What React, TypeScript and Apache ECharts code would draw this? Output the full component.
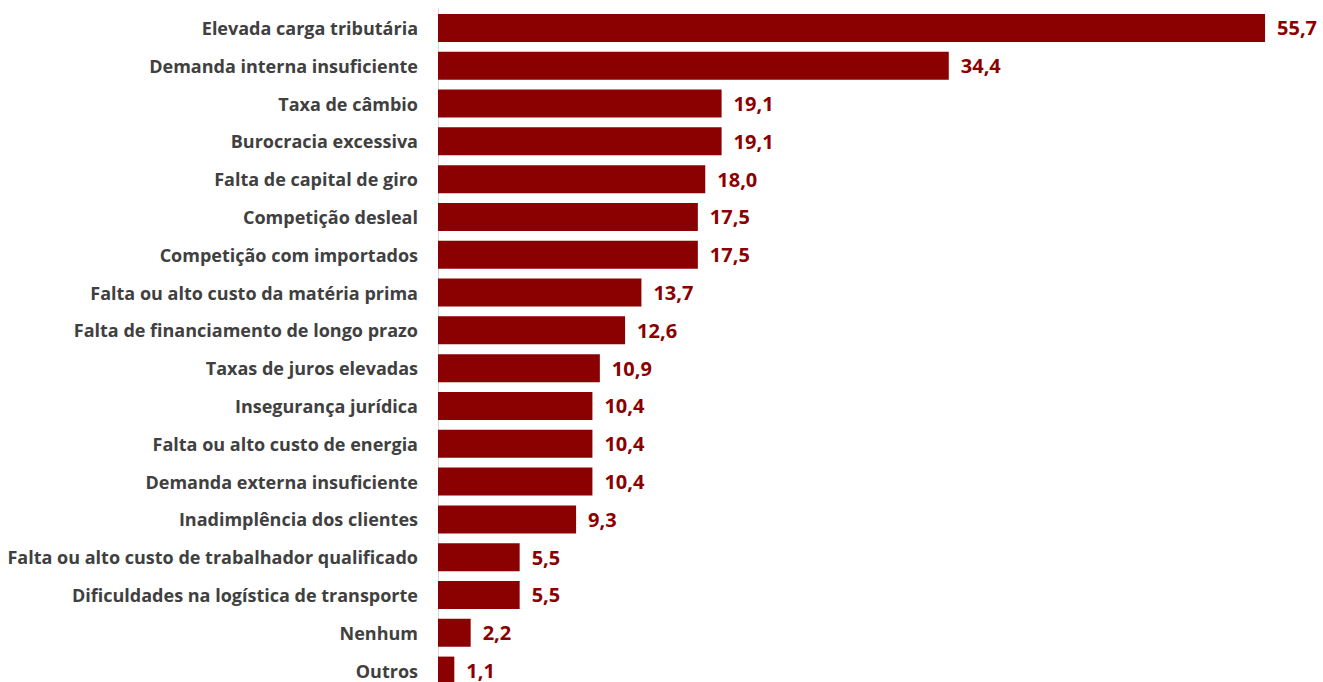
import React, { useEffect, useRef } from "react";
import * as echarts from "echarts";

const categories = [
  "Elevada carga tributária",
  "Demanda interna insuficiente",
  "Taxa de câmbio",
  "Burocracia excessiva",
  "Falta de capital de giro",
  "Competição desleal",
  "Competição com importados",
  "Falta ou alto custo da matéria prima",
  "Falta de financiamento de longo prazo",
  "Taxas de juros elevadas",
  "Insegurança jurídica",
  "Falta ou alto custo de energia",
  "Demanda externa insuficiente",
  "Inadimplência dos clientes",
  "Falta ou alto custo de trabalhador qualificado",
  "Dificuldades na logística de transporte",
  "Nenhum",
  "Outros",
];

const values = [55.7, 34.4, 19.1, 19.1, 18.0, 17.5, 17.5, 13.7, 12.6, 10.9, 10.4, 10.4, 10.4, 9.3, 5.5, 5.5, 2.2, 1.1];

const FONT = "'Open Sans', Lato, sans-serif";

export default function App() {
  const ref = useRef<HTMLDivElement>(null);
  useEffect(() => {
    if (!ref.current) return;
    const chart = echarts.init(ref.current, null, { renderer: "svg" });
    chart.setOption({
      animation: false,
      backgroundColor: "#ffffff",
      grid: { left: 438, top: 9, height: 680.5, width: 831.5 },
      xAxis: {
        type: "value",
        min: 0,
        max: 56,
        show: false,
        splitLine: { show: false },
      },
      yAxis: {
        type: "category",
        inverse: true,
        data: categories,
        axisLine: { show: true, lineStyle: { color: "#d9d9d9", width: 1 } },
        axisTick: { show: false },
        axisLabel: {
          margin: 20,
          color: "#404040",
          fontFamily: FONT,
          fontWeight: "bold",
          fontSize: 18,
        },
      },
      series: [
        {
          type: "bar",
          data: values,
          barWidth: 28,
          itemStyle: { color: "#8b0000" },
          label: {
            show: true,
            position: "right",
            distance: 12,
            color: "#8b0000",
            fontFamily: FONT,
            fontWeight: "bold",
            fontSize: 20,
            formatter: (p: any) => p.value.toFixed(1).replace(".", ","),
          },
        },
      ],
    });
    return () => chart.dispose();
  }, []);
  return (
    <div
      style={{
        position: "fixed",
        left: 0,
        top: 0,
        width: 1323,
        height: 682,
        overflow: "hidden",
        background: "#ffffff",
      }}
    >
      <div ref={ref} style={{ width: 1323, height: 700 }} />
    </div>
  );
}
